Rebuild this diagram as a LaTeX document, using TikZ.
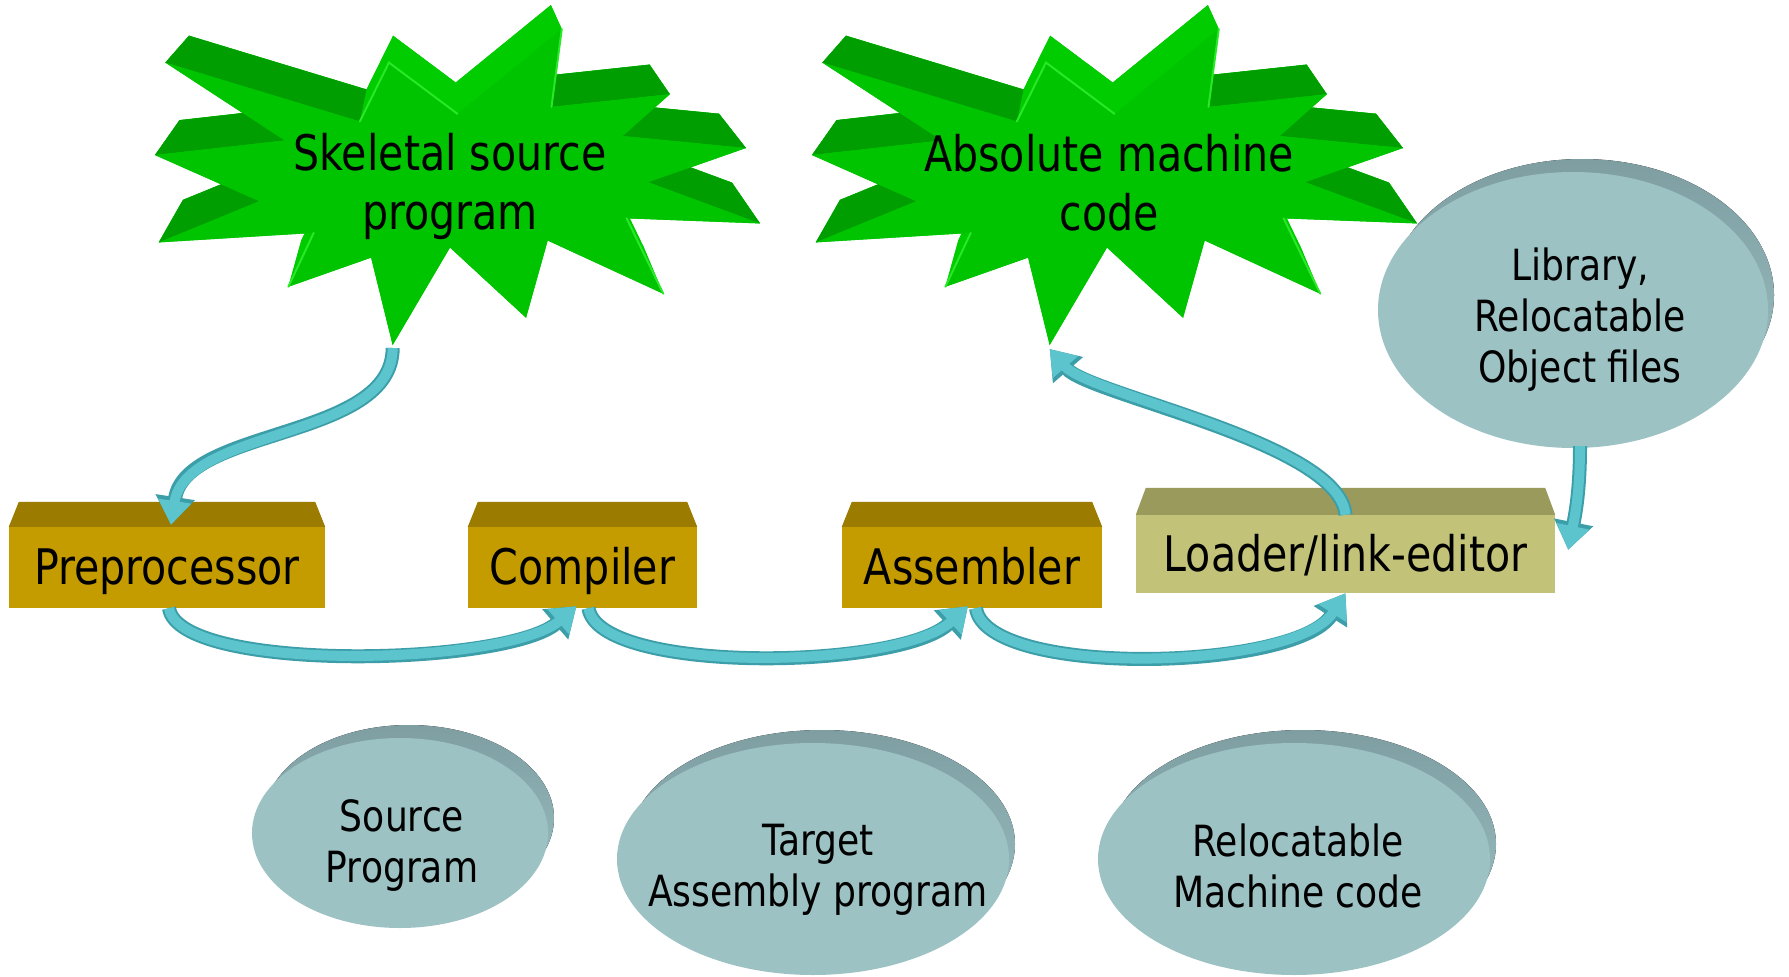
\documentclass[tikz,border=0pt]{standalone}
\usepackage{fontspec}
\setmainfont{DejaVu Sans}[FakeStretch=0.84]
\usetikzlibrary{calc,arrows.meta,shapes.geometric}

\definecolor{burstface}{RGB}{0,196,0}
\definecolor{burstlit}{RGB}{0,204,0}
\definecolor{burstside}{RGB}{0,158,0}
\definecolor{burstedge}{RGB}{40,232,40}
\definecolor{goldface}{RGB}{196,156,0}
\definecolor{goldtop}{RGB}{156,124,0}
\definecolor{khakiface}{RGB}{194,194,120}
\definecolor{khakitop}{RGB}{154,154,92}
\definecolor{discface}{RGB}{157,194,196}
\definecolor{discrim}{RGB}{126,158,162}
\definecolor{flowlight}{RGB}{92,196,204}
\definecolor{flowdark}{RGB}{60,158,168}

\tikzset{
  bursttext/.style={font=\fontsize{49}{59}\selectfont, align=center, inner sep=0pt},
  disctext/.style={font=\fontsize{43}{51}\selectfont, align=center, inner sep=0pt},
  stagebox/.style={fill=goldface, font=\fontsize{49}{59}\selectfont, inner sep=0pt,
    text height=37pt, text depth=3pt, minimum height=81pt},
  linkbox/.style={stagebox, fill=khakiface, minimum height=78pt},
  disc/.style={ellipse, fill=discface, inner sep=0pt},
  flowunder/.style={draw=flowdark, line width=14pt, -{Triangle[width=38pt,length=28pt]}},
  flowover/.style={draw=flowlight, line width=10pt, -{Triangle[width=32pt,length=24pt]}},
}

% 24-point explosion outline (216 x 216 grid), extruded towards a far point above
\newcommand\drawburst[3]{%
  \begin{scope}[xshift=#1pt, yshift=-#2pt, x=2.801pt, y=-1.463pt]
    \coordinate (#3-c) at (100.66,-187.9);
    \foreach \i/\px/\py in {0/108/58, 1/145.22/0, 2/141.55/53.25, 3/183.8/44.57,
        4/167.02/73.15, 5/210.97/81.37, 6/176.07/104.75, 7/216/132.9, 8/168.37/129.42,
        9/181.45/180.95, 10/140.2/144.57, 11/132.47/197.37, 12/105.32/149.35,
        13/84.85/216, 14/77.15/156.27, 15/47.62/176.17, 16/56.67/139.37,
        17/1.35/145.87, 18/37.22/117.75, 19/0/86.15, 20/46.27/76.17, 21/3.7/22.95,
        22/73.12/63.2, 23/83.52/22.95}
      \coordinate (#3-\i) at (\px,\py);
  \end{scope}
  \foreach \i in {0,...,23}
    \coordinate (#3-b\i) at ($(#3-c)!0.913!(#3-\i)$);
  % far face and lit side faces
  \fill[burstlit] (#3-b0) \foreach \i in {1,...,23}{ -- (#3-b\i)} -- cycle;
  \foreach \i [evaluate=\i as \j using {int(mod(\i+1,24))}] in {0,...,23}
    \fill[burstlit] (#3-\i) -- (#3-\j) -- (#3-b\j) -- (#3-b\i) -- cycle;
  % shaded upper faces of the side spikes
  \foreach \i [evaluate=\i as \j using {int(\i+1)}] in {2,4,6,17,19,21}
    \fill[burstside] (#3-\i) -- (#3-\j) -- (#3-b\j) -- (#3-b\i) -- cycle;
  % near face
  \fill[burstface] (#3-0) \foreach \i in {1,...,23}{ -- (#3-\i)} -- cycle;
  \draw[burstedge, line width=2pt, line cap=round]
    (#3-22) -- (#3-23) -- (#3-0) (#3-8) -- (#3-9) (#3-15) -- (#3-16) (#3-1) -- (#3-2);
}

% disc: shaded rim behind, flat face in front
\newcommand\drawdisc[5]{%
  \fill[top color=discrim, bottom color=discface] (#2+9,#3-15) ellipse [x radius=#4-3, y radius=#5-2];
  \node[disc, minimum width=2*#4pt, minimum height=2*#5pt] (#1) at (#2,#3) {};
}

% two-tone connector
\newcommand\flowpath[1]{\draw[flowunder] #1; \draw[flowover] #1;}

\begin{document}
\begin{tikzpicture}[x=1pt, y=-1pt]
\useasboundingbox (0,0) rectangle (1789,977);
\fill[white] (0,0) rectangle (1789,977);

% bursts
\drawburst{155}{29}{s1}
\drawburst{812}{29}{s2}
\node[bursttext] (s1-text) at (450,186) {Skeletal source\\program};
\node[bursttext] (s2-text) at (1109,183) {Absolute machine\\code};

% discs
\drawdisc{lib}{1573}{310}{195}{138}
\drawdisc{src}{400}{833}{148}{95}
\drawdisc{tgt}{813}{859}{196}{116}
\drawdisc{rel}{1294}{859}{196}{116}
\node[disctext] (lib-text) at (1580,320) {Library,\\Relocatable\\Object files};
\node[disctext] (src-text) at (402,846) {Source\\Program};
\node[disctext] (tgt-text) at (818,870) {Target\\Assembly program};
\node[disctext] (rel-text) at (1298,866) {Relocatable\\Machine code};

% processing stages
\node[stagebox, minimum width=316pt] (pre) at (167,567.5) {Preprocessor};
\node[stagebox, minimum width=229pt] (comp) at (582.5,567.5) {Compiler};
\node[stagebox, minimum width=260pt] (asm) at (972,567.5) {Assembler};
\node[linkbox, minimum width=419pt] (load) at (1345.5,554) {Loader/link-editor};
\foreach \b in {pre,comp,asm}
  \fill[goldtop] (\b.north west) -- ++(10,-25) -- ($(\b.north east)+(-10,-25)$) -- (\b.north east) -- cycle;
\fill[khakitop] (load.north west) -- ++(10,-27) -- ($(load.north east)+(-10,-27)$) -- (load.north east) -- cycle;

% connectors
\flowpath{($(s1-13)+(0,3)$) .. controls +(0,92) and +(15,-98) .. ([xshift=4pt,yshift=2pt]pre.north)}
\flowpath{([xshift=2pt]pre.south) .. controls +(10,65) and +(-70,60) .. ([xshift=-6pt,yshift=2pt]comp.south)}
\flowpath{([xshift=6pt]comp.south) .. controls +(10,66) and +(-70,64) .. ([xshift=-4pt,yshift=2pt]asm.south)}
\flowpath{([xshift=4pt]asm.south) .. controls +(10,70) and +(-50,78) .. ([yshift=0pt]load.south)}
\flowpath{(load.north) .. controls +(-6,-72) and +(40,46) .. ($(s2-13)+(0,4)$)}
\flowpath{([xshift=7pt,yshift=2pt]lib.south) .. controls +(0,40) and +(8,-40) .. ([xshift=13pt,yshift=-35pt]load.north east)}
\end{tikzpicture}
\end{document}
